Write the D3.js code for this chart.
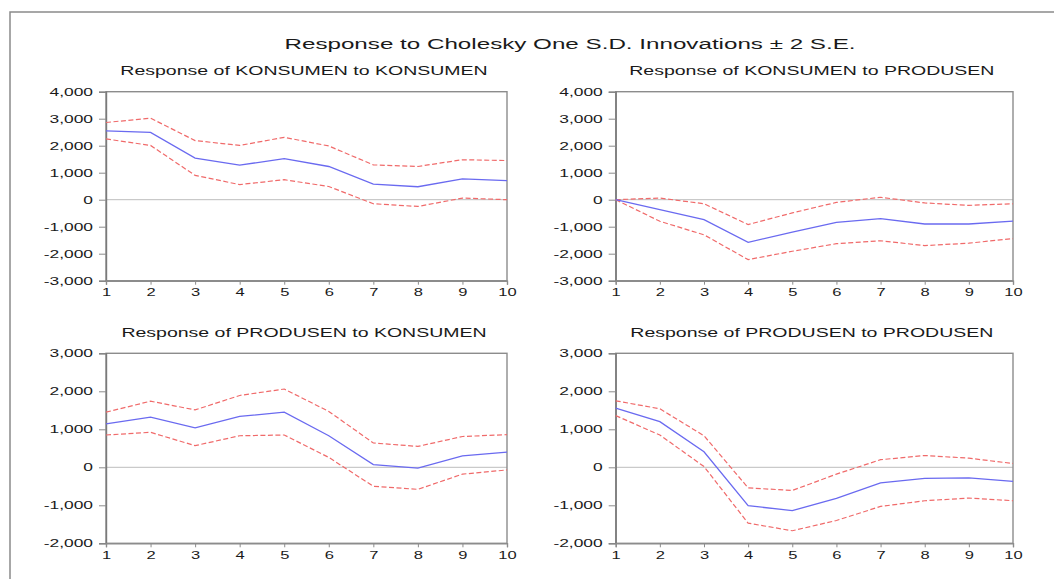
<!DOCTYPE html>
<html>
<head>
<meta charset="utf-8">
<script src="https://cdn.jsdelivr.net/npm/d3@7"></script>
<style>
  html, body { margin: 0; padding: 0; background: #fff; }
  svg { display: block; }
  text { font-family: "Liberation Sans", Arial, sans-serif; fill: #1a1a1a; }
</style>
</head>
<body>
<svg id="chart" width="1054" height="579"></svg>
<script>
// Forecast horizon (periods)
const periods = [1, 2, 3, 4, 5, 6, 7, 8, 9, 10];

// Response of KONSUMEN to KONSUMEN
const kkResp  = [2550, 2490, 1540, 1280, 1520, 1230, 580, 480, 770, 710];
const kkUpper = [2860, 3020, 2190, 2010, 2310, 1990, 1290, 1230, 1480, 1450];
const kkLower = [2250, 2010, 900, 560, 740, 490, -150, -250, 60, 0];

// Response of KONSUMEN to PRODUSEN
const kpResp  = [0, -370, -740, -1580, -1200, -840, -700, -900, -900, -790];
const kpUpper = [0, 60, -150, -920, -490, -100, 90, -120, -210, -150];
const kpLower = [0, -800, -1300, -2220, -1910, -1630, -1520, -1700, -1610, -1440];

// Response of PRODUSEN to KONSUMEN
const pkResp  = [1140, 1320, 1040, 1340, 1450, 830, 70, -20, 300, 400];
const pkUpper = [1450, 1740, 1510, 1890, 2060, 1470, 640, 550, 810, 860];
const pkLower = [850, 920, 570, 830, 850, 260, -500, -580, -180, -70];

// Response of PRODUSEN to PRODUSEN
const ppResp  = [1560, 1200, 410, -1010, -1140, -820, -410, -290, -280, -370];
const ppUpper = [1750, 1540, 830, -540, -610, -180, 200, 310, 240, 100];
const ppLower = [1360, 850, 20, -1470, -1670, -1400, -1030, -880, -810, -880];

// Y-axis tick values for each row
const topTicks    = [-3000, -2000, -1000, 0, 1000, 2000, 3000, 4000];
const bottomTicks = [-2000, -1000, 0, 1000, 2000, 3000];

const mainTitle = "Response to Cholesky One S.D. Innovations \u00b1 2 S.E.";
const panelTitles = [
  "Response of KONSUMEN to KONSUMEN",
  "Response of KONSUMEN to PRODUSEN",
  "Response of PRODUSEN to KONSUMEN",
  "Response of PRODUSEN to PRODUSEN"
];

const svg = d3.select("#chart");

// Outer frame
svg.append("rect")
  .attr("x", 10).attr("y", 12)
  .attr("width", 1060).attr("height", 600)
  .attr("fill", "none").attr("stroke", "#8a8a8a").attr("stroke-width", 1.5);

// Stretch a text element horizontally by a factor
function stretch(sel, factor) {
  sel.each(function () {
    const w = this.getComputedTextLength();
    d3.select(this).attr("textLength", w * factor).attr("lengthAdjust", "spacingAndGlyphs");
  });
}

svg.append("text")
  .attr("x", 570).attr("y", 49)
  .attr("text-anchor", "middle")
  .style("font-size", "15.5px")
  .text(mainTitle)
  .call(stretch, 1.56);

const colX = [[106, 507], [615.7, 1013]];
const rowY = [[91.7, 280.7], [353.3, 543.3]];

const panels = [
  { col: 0, row: 0, resp: kkResp, upper: kkUpper, lower: kkLower, domain: [-3000, 4000], ticks: topTicks, title: panelTitles[0] },
  { col: 1, row: 0, resp: kpResp, upper: kpUpper, lower: kpLower, domain: [-3000, 4000], ticks: topTicks, title: panelTitles[1] },
  { col: 0, row: 1, resp: pkResp, upper: pkUpper, lower: pkLower, domain: [-2000, 3000], ticks: bottomTicks, title: panelTitles[2] },
  { col: 1, row: 1, resp: ppResp, upper: ppUpper, lower: ppLower, domain: [-2000, 3000], ticks: bottomTicks, title: panelTitles[3] }
];

// Thousands separator with a plain hyphen for negatives
const fmt = d3.formatLocale({ decimal: ".", thousands: ",", grouping: [3], currency: ["", ""], minus: "-" }).format(",");

panels.forEach(p => {
  const [x0, x1] = colX[p.col];
  const [y0, y1] = rowY[p.row];
  const x = d3.scaleLinear().domain([1, 10]).range([x0, x1]);
  const y = d3.scaleLinear().domain(p.domain).range([y1, y0]);
  const g = svg.append("g");

  // Panel title
  g.append("text")
    .attr("x", (x0 + x1) / 2 - 2.5).attr("y", y0 - 16.5)
    .attr("text-anchor", "middle")
    .style("font-size", "13px")
    .text(p.title)
    .call(stretch, 1.5);

  // Zero reference line
  g.append("line")
    .attr("x1", x0).attr("x2", x1)
    .attr("y1", y(0)).attr("y2", y(0))
    .attr("stroke", "#bdbdbd").attr("stroke-width", 1);

  // Plot box
  g.append("rect")
    .attr("x", x0).attr("y", y0)
    .attr("width", x1 - x0).attr("height", y1 - y0)
    .attr("fill", "none").attr("stroke", "#8c8c8c").attr("stroke-width", 1.4);

  // Y axis
  const ya = g.append("g")
    .attr("transform", `translate(${x0},0)`)
    .call(d3.axisLeft(y).tickValues(p.ticks).tickFormat(fmt).tickSize(7).tickPadding(6));
  ya.select(".domain").attr("stroke", "#7a7a7a").attr("stroke-width", 1.4);
  ya.selectAll(".tick line").attr("stroke", "#8c8c8c");
  ya.selectAll(".tick text")
    .style("font-size", "11px").style("font-family", "Liberation Sans, Arial, sans-serif")
    .attr("fill", "#1a1a1a")
    .call(stretch, 1.58);

  // X axis
  const xa = g.append("g")
    .attr("transform", `translate(0,${y1})`)
    .call(d3.axisBottom(x).tickValues(periods).tickFormat(d3.format("d")).tickSize(4).tickPadding(3.5));
  xa.select(".domain").attr("stroke", "#8c8c8c").attr("stroke-width", 1.4);
  xa.selectAll(".tick line").attr("stroke", "#8c8c8c");
  xa.selectAll(".tick text")
    .style("font-size", "11px").style("font-family", "Liberation Sans, Arial, sans-serif")
    .attr("fill", "#1a1a1a")
    .call(stretch, 1.5);

  const line = d3.line().x((d, i) => x(periods[i])).y(d => y(d));

  // ±2 S.E. bands
  [p.upper, p.lower].forEach(band => {
    g.append("path")
      .datum(band)
      .attr("d", line)
      .attr("fill", "none")
      .attr("stroke", "#f06a6a")
      .attr("stroke-width", 1.2)
      .attr("stroke-dasharray", "5,2.5");
  });

  // Impulse response
  g.append("path")
    .datum(p.resp)
    .attr("d", line)
    .attr("fill", "none")
    .attr("stroke", "#6a6af0")
    .attr("stroke-width", 1.3);
});
</script>
</body>
</html>
